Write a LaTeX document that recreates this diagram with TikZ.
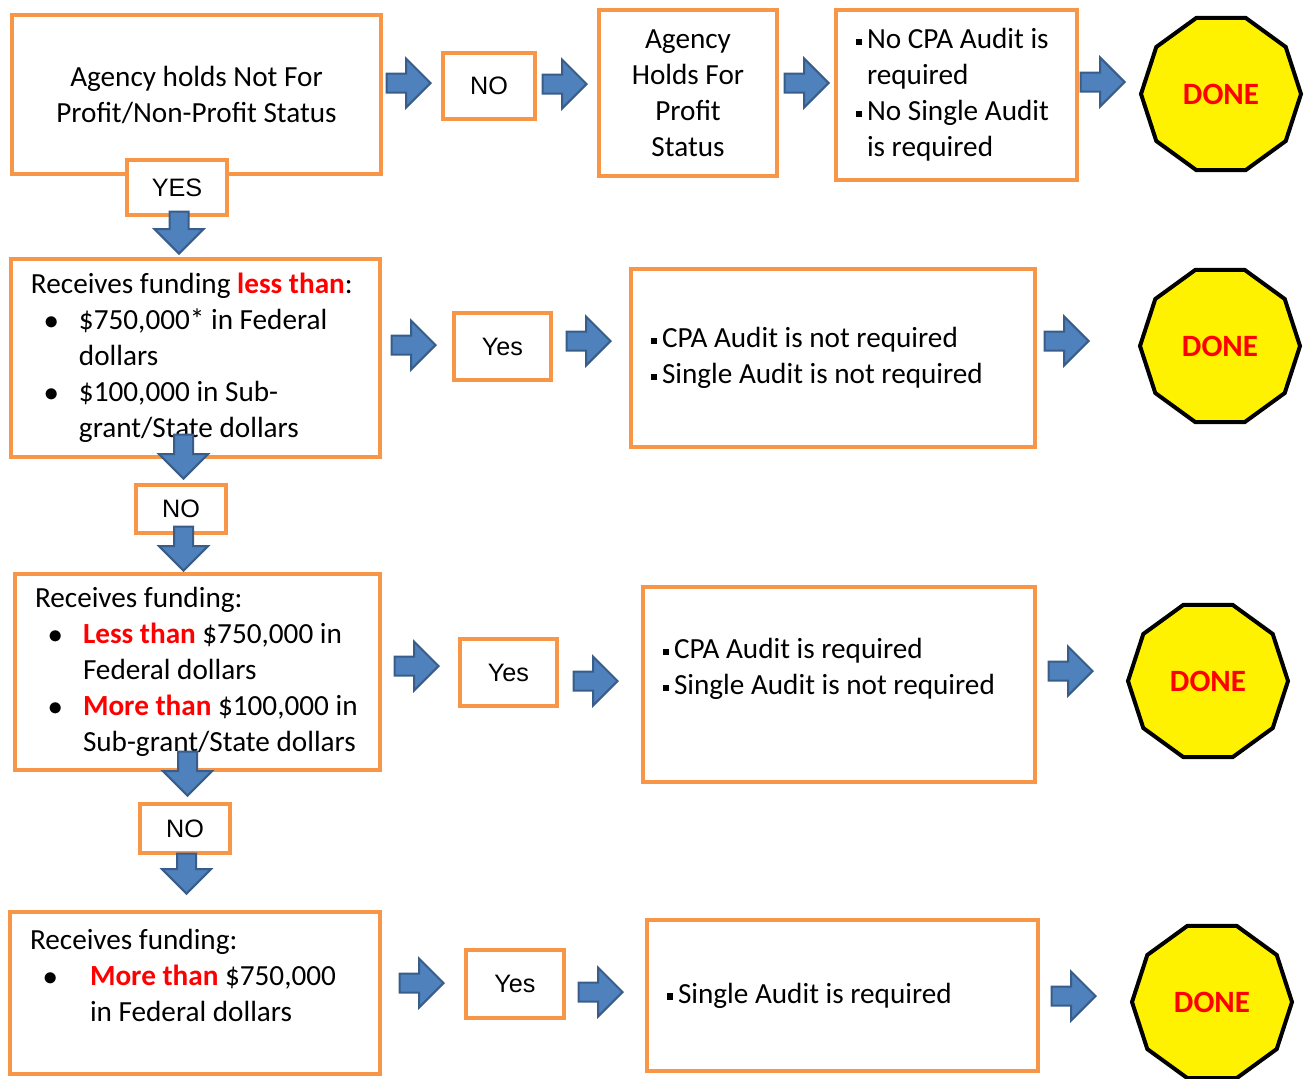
\documentclass[tikz,border=0pt]{standalone}
\usepackage{fontspec}
\setmainfont{Carlito}
\newfontfamily\labfont{Liberation Sans}
\usetikzlibrary{shapes.arrows,shapes.geometric}
\definecolor{boxorange}{HTML}{F79646}
\definecolor{arrowfill}{HTML}{4F81BD}
\definecolor{arrowedge}{HTML}{385D8A}
\newcommand{\sqb}{\makebox[5.5pt][l]{\rule[1.8pt]{3.2pt}{3.2pt}}}
\newcommand{\bul}[1]{\hspace*{6.5pt}\makebox[#1][l]{$\bullet$}}
\newcommand{\redb}[1]{\textcolor{red}{\bfseries #1}}
\begin{document}
\begin{tikzpicture}[x=0.5pt,y=-0.5pt,
  box/.style={draw=boxorange,line width=2pt,fill=white,inner xsep=10pt,inner ysep=0pt,align=flush left,font=\fontsize{14.6}{18}\selectfont},
  lab/.style={draw=boxorange,line width=2pt,fill=white,inner sep=0pt,font=\labfont\fontsize{12.6}{15}\selectfont},
  rarr/.style={single arrow,draw=arrowedge,fill=arrowfill,line width=1pt,inner xsep=0pt,inner ysep=4.25pt,minimum height=22pt,single arrow head extend=7.5pt,anchor=tip},
  darr/.style={rarr,inner xsep=4.25pt,inner ysep=0pt,shape border rotate=270},
  done/.style={regular polygon,regular polygon sides=10,draw=black,line width=2pt,fill=yellow,minimum size=80pt,inner sep=0pt,text=red,font=\fontsize{15.5}{18}\selectfont\bfseries}]
\useasboundingbox (0,0) rectangle (1306,1078);

% question boxes
\node[box,align=flush center,minimum width=184.5pt,minimum height=79.5pt,text width=164.5pt] (status) at (196.5,94.5) {Agency holds Not For\\Profit/Non-Profit Status};
\node[box,minimum width=184.5pt,minimum height=99pt,text width=164.5pt] (lessthan) at (195.5,358) {Receives funding \redb{less than}:\\
  \bul{17.5pt}\$750,000* in Federal\\
  \hspace*{24pt}dollars\\
  \bul{17.5pt}\$100,000 in Sub-\\
  \hspace*{24pt}grant/State dollars};
\node[box,minimum width=182.5pt,minimum height=98pt,text width=162.5pt] (mixed) at (197.5,672) {Receives funding:\\
  \bul{17.5pt}\redb{Less than} \$750,000 in\\
  \hspace*{24pt}Federal dollars\\
  \bul{17.5pt}\redb{More than} \$100,000 in\\
  \hspace*{24pt}Sub-grant/State dollars};
\node[box,minimum width=185pt,minimum height=81pt,text width=165pt] (morethan) at (195,993) {Receives funding:\\
  \bul{23.5pt}\redb{More than} \$750,000\\
  \hspace*{30pt}in Federal dollars\\ \mbox{}};

% result boxes
\node[box,align=flush center,minimum width=89pt,minimum height=83pt,text width=69pt] (forprofit) at (688,93) {Agency\\Holds For\\Profit\\Status};
\node[box,minimum width=120.5pt,minimum height=85pt,text width=100.5pt] (res1) at (956.5,95) {\sqb No CPA Audit is\\
  \hspace*{5.5pt}required\\
  \sqb No Single Audit\\
  \hspace*{5.5pt}is required};
\node[box,minimum width=202pt,minimum height=89pt,text width=182pt] (res2) at (833,358) {\sqb CPA Audit is not required\\\sqb Single Audit is not required};
\node[box,minimum width=196pt,minimum height=97.5pt,text width=176pt] (res3) at (839,684.5) {\sqb CPA Audit is required\\\sqb Single Audit is not required\\ \mbox{}};
\node[box,minimum width=195.5pt,minimum height=75.5pt,text width=175.5pt] (res4) at (842.5,995.5) {\sqb Single Audit is required};

% answer labels
\node[lab,minimum width=50pt,minimum height=27.5pt] (yes1) at (177,187.5) {YES};
\node[lab,minimum width=46pt,minimum height=33pt] (no1) at (489,86) {NO};
\node[lab,minimum width=48.5pt,minimum height=33.5pt] (yes2) at (502.5,346.5) {Yes};
\node[lab,minimum width=45pt,minimum height=24pt] (no2) at (181,509) {NO};
\node[lab,minimum width=48.5pt,minimum height=33.5pt] (yes3) at (508.5,672.5) {Yes};
\node[lab,minimum width=45pt,minimum height=24.5pt] (no3) at (185,828.5) {NO};
\node[lab,minimum width=49pt,minimum height=34pt] (yes4) at (515,984) {Yes};

% block arrows, placed by their tips
\node[rarr] (ar1) at (432,83) {};
\node[rarr] (ar2) at (588,84) {};
\node[rarr] (ar3) at (830,83) {};
\node[rarr] (ar4) at (1126,82) {};
\node[rarr] (ar5) at (437,345) {};
\node[rarr] (ar6) at (612,341) {};
\node[rarr] (ar7) at (1090,341) {};
\node[rarr] (ar8) at (440,666) {};
\node[rarr] (ar9) at (619,681) {};
\node[rarr] (ar10) at (1094,671) {};
\node[rarr] (ar11) at (445,983) {};
\node[rarr] (ar12) at (624,992) {};
\node[rarr] (ar13) at (1097,996) {};
\node[darr,minimum height=21pt] (dn1) at (179,255) {};
\node[darr] (dn2) at (183.5,480) {};
\node[darr] (dn3) at (183.5,572) {};
\node[darr] (dn4) at (187.5,797) {};
\node[darr,minimum height=20pt] (dn5) at (186.5,895) {};

% stop signs
\node[done] (done1) at (1221,94) {DONE};
\node[done] (done2) at (1220,346) {DONE};
\node[done] (done3) at (1208,681) {DONE};
\node[done] (done4) at (1212,1002) {DONE};
\end{tikzpicture}
\end{document}
